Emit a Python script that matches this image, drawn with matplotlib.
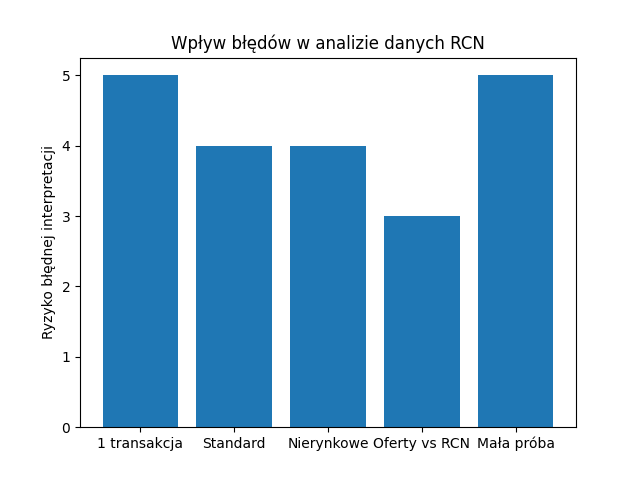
import matplotlib
matplotlib.use("Agg")
import matplotlib.pyplot as plt

categories = ["1 transakcja", "Standard", "Nierynkowe", "Oferty vs RCN", "Mała próba"]
values = [5, 4, 4, 3, 5]

fig, ax = plt.subplots(figsize=(6.4, 4.8), dpi=100)
ax.bar(categories, values)
ax.set_title("Wpływ błędów w analizie danych RCN")
ax.set_ylabel("Ryzyko błędnej interpretacji")
fig.savefig("out.png")
